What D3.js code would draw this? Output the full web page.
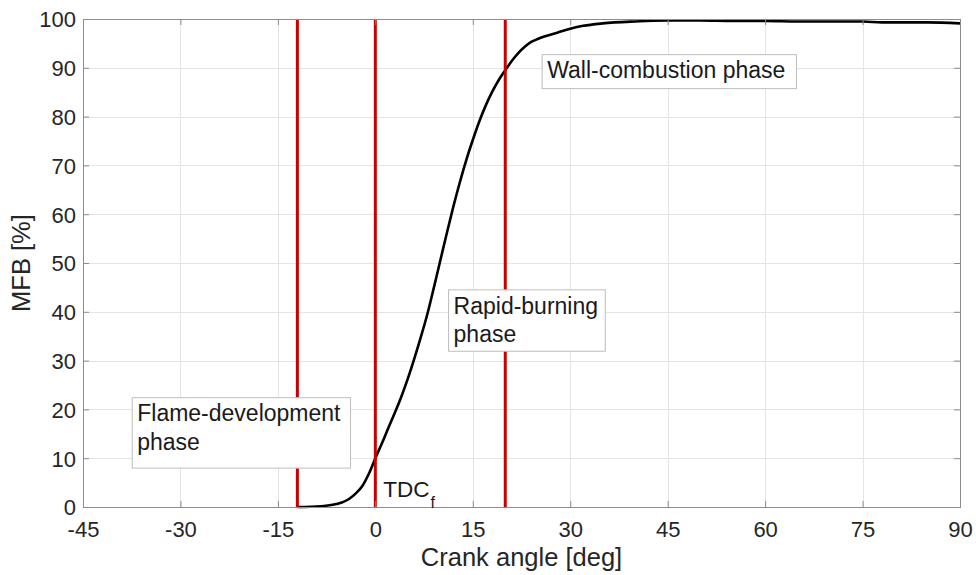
<!DOCTYPE html>
<html>
<head>
<meta charset="utf-8">
<script src="https://cdn.jsdelivr.net/npm/d3@7"></script>
<style>
  html, body { margin: 0; padding: 0; background: #fff; }
  svg { display: block; font-family: "Liberation Sans", Arial, Helvetica, sans-serif; }
</style>
</head>
<body>
<svg id="chart" width="976" height="575"></svg>
<script>
// ---- data ----
const crankAngle = [-12,-10,-8,-6,-5,-4,-3,-2,-1,0,1,2,3,4,5,6,7,8,9,10,11,12,13,14,15,16,17,18,19,20,21,22,23,24,25,26,28,30,32,35,40,45,50,55,60,65,70,75,78,80,85,90];
const mfb = [0,0.05,0.2,0.6,1.0,1.7,2.8,4.3,6.8,10,13,16.2,19.3,22.6,26.3,30.4,34.8,39.5,44.9,50.5,56.1,61.5,66.5,71.1,75.2,79,82.3,85.1,87.5,89.5,91.4,93,94.3,95.3,95.9,96.4,97.2,98,98.6,99.1,99.5,99.7,99.7,99.6,99.6,99.5,99.5,99.5,99.3,99.3,99.3,99.1];
const phaseBoundaries = [-12, 0, 20];
const xTicks = [-45,-30,-15,0,15,30,45,60,75,90];
const yTicks = [0,10,20,30,40,50,60,70,80,90,100];
const xLabel = "Crank angle [deg]";
const yLabel = "MFB [%]";
const annotationLines = [["Flame-development","phase"],["Rapid-burning","phase"],["Wall-combustion phase"]];
const annotationAnchors = [[-37.5,22.5],[11.2,44.6],[25.6,92.8]]; // data coords of box top-left

// ---- layout ----
const svg = d3.select("#chart");
const L = 83, R = 960, T = 19, B = 507;
const x = d3.scaleLinear().domain([-45, 90]).range([L, R]);
const y = d3.scaleLinear().domain([0, 100]).range([B, T]);
const textCol = "#262626", axisCol = "#8c8c8c", gridCol = "#e4e4e4";

// grid
svg.append("g").selectAll("line").data(xTicks.slice(1, -1)).join("line")
  .attr("x1", d => Math.round(x(d)) + 0.5).attr("x2", d => Math.round(x(d)) + 0.5)
  .attr("y1", T).attr("y2", B).attr("stroke", gridCol).attr("stroke-width", 1);
svg.append("g").selectAll("line").data(yTicks.slice(1, -1)).join("line")
  .attr("y1", d => Math.round(y(d)) + 0.5).attr("y2", d => Math.round(y(d)) + 0.5)
  .attr("x1", L).attr("x2", R).attr("stroke", gridCol).attr("stroke-width", 1);

// curve
const line = d3.line().x((d, i) => x(crankAngle[i])).y(d => y(d)).curve(d3.curveMonotoneX);
svg.append("path").datum(mfb).attr("d", line)
  .attr("fill", "none").attr("stroke", "#000").attr("stroke-width", 2.6).attr("stroke-linejoin", "round");

// red phase lines
svg.append("g").selectAll("line").data(phaseBoundaries).join("line")
  .attr("x1", d => x(d)).attr("x2", d => x(d)).attr("y1", T).attr("y2", B)
  .attr("stroke", "#c80000").attr("stroke-width", 3);

// axes with inward ticks (bottom/left labeled, top/right mirrored)
const fmt = d => d3.format("d")(d).replace("−", "-");
const xAxis = d3.axisBottom(x).tickValues(xTicks).tickSize(-6).tickPadding(14).tickFormat(fmt);
const yAxis = d3.axisLeft(y).tickValues(yTicks).tickSize(-6).tickPadding(7).tickFormat(fmt);
const gx = svg.append("g").attr("transform", `translate(0,${B})`).call(xAxis);
const gy = svg.append("g").attr("transform", `translate(${L},0)`).call(yAxis);
const gxt = svg.append("g").attr("transform", `translate(0,${T})`).call(d3.axisTop(x).tickValues(xTicks).tickSize(-6).tickFormat(""));
const gyr = svg.append("g").attr("transform", `translate(${R},0)`).call(d3.axisRight(y).tickValues(yTicks).tickSize(-6).tickFormat(""));
[gx, gy, gxt, gyr].forEach(g => {
  g.select(".domain").attr("stroke", axisCol).attr("stroke-width", 1);
  g.selectAll(".tick line").attr("stroke", axisCol);
  g.selectAll(".tick text").attr("fill", textCol).attr("font-size", 22).attr("font-family", "Liberation Sans, Arial, sans-serif");
});
gx.selectAll(".tick text").attr("dy", "0.71em");
gy.selectAll(".tick text").attr("dy", "0.36em");

// axis labels
svg.append("text").attr("x", (L + R) / 2).attr("y", 566).attr("text-anchor", "middle")
  .attr("font-size", 25.5).attr("fill", textCol).text(xLabel);
svg.append("text").attr("transform", `translate(30,${(T + B) / 2}) rotate(-90)`).attr("text-anchor", "middle")
  .attr("font-size", 25.5).attr("fill", textCol).text(yLabel);

// annotation boxes
const boxSizes = [[218.3, 70.4], [156.7, 61.4], [254.3, 34]];
const baselineOffsets = [[23.5, 53], [25, 53], [24]];
annotationLines.forEach((lines, i) => {
  const bx = x(annotationAnchors[i][0]), by = y(annotationAnchors[i][1]);
  const g = svg.append("g");
  g.append("rect").attr("x", bx + 0.5).attr("y", by + 0.5)
    .attr("width", boxSizes[i][0]).attr("height", boxSizes[i][1])
    .attr("fill", "#fff").attr("stroke", "#bdbdbd").attr("stroke-width", 1);
  lines.forEach((t, j) => {
    g.append("text").attr("x", bx + 5.5).attr("y", by + baselineOffsets[i][j])
      .attr("font-size", 23).attr("fill", "#1a1a1a").text(t);
  });
});

// TDC_f label
const tdc = svg.append("text").attr("x", x(0) + 8).attr("y", 497.3).attr("font-size", 22.5).attr("fill", "#1a1a1a");
tdc.append("tspan").text("TDC");
tdc.append("tspan").attr("font-size", 16).attr("dy", 11).attr("dx", 1).text("f");
</script>
</body>
</html>
